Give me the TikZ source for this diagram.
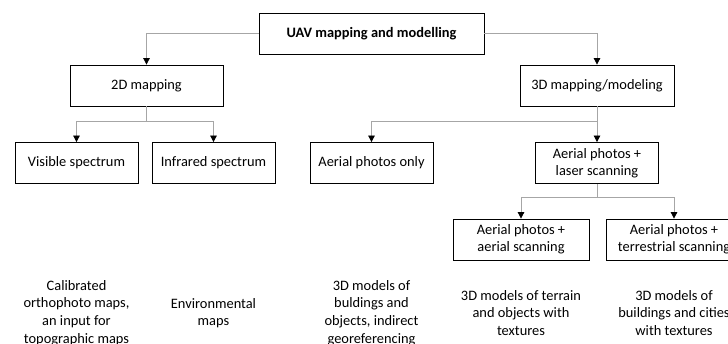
\documentclass[tikz,border=0pt]{standalone}
\usepackage{fontspec}
\setmainfont{Carlito}
\usepackage{tikz}
\usetikzlibrary{arrows.meta,positioning}

\begin{document}
\begin{tikzpicture}[x=1pt,y=-1pt,
      box/.style={rectangle,draw=black,line width=0.8pt,fill=white,minimum height=41pt,inner sep=0pt,align=center,font=\fontsize{14.4}{17}\selectfont},
      rootbox/.style={box,font=\fontsize{14.4}{17}\selectfont\bfseries},
      note/.style={align=center,inner sep=0pt,font=\fontsize{14.4}{17.6}\selectfont},
      link/.style={draw=gray!70,line width=0.8pt,-{Triangle[color=black,length=6.5pt,width=6.5pt]}}]
    \useasboundingbox (0,0) rectangle (728,344);
    % boxes
    \node[rootbox,minimum width=225pt] (uav) at (371.5,33.5) {UAV mapping and modelling};
    \node[box,minimum width=153pt] (map2d) at (146.5,85.5) {2D mapping};
    \node[box,minimum width=154pt] (map3d) at (597,85.5) {3D mapping/modeling};
    \node[box,minimum width=123pt] (vis) at (76.5,163) {Visible spectrum};
    \node[box,minimum width=123pt] (ir) at (213.5,163) {Infrared spectrum};
    \node[box,minimum width=123pt] (photo) at (371.5,163) {Aerial photos only};
    \node[box,minimum width=123pt] (laser) at (597,163) {Aerial photos +\\laser scanning};
    \node[box,minimum width=136pt] (aerscan) at (521,239.5) {Aerial photos +\\aerial scanning};
    \node[box,minimum width=136pt] (terscan) at (674,239.5) {Aerial photos +\\terrestrial scanning};
    % outputs
    \node[note] (visout) at (76.5,313) {Calibrated\\orthophoto maps,\\an input for\\topographic maps};
    \node[note] (irout) at (213.5,313) {Environmental\\maps};
    \node[note] (photoout) at (371.5,313) {3D models of\\buldings and\\objects, indirect\\georeferencing};
    \node[note] (aerout) at (521,313) {3D models of terrain\\and objects with\\textures};
    \node[note] (terout) at (674,313) {3D models of\\buildings and cities\\with textures};
    % connectors
    \coordinate (fork2d) at (146.5,121);
    \coordinate (fork3d) at (597,121);
    \coordinate (forklaser) at (597,197);
    \draw[link] (uav.west) -| (map2d.north);
    \draw[link] (uav.east) -| (map3d.north);
    \draw[link] (map2d.south) -- (fork2d) -| (vis.north);
    \draw[link] (fork2d) -| (ir.north);
    \draw[link] (map3d.south) -- (fork3d) -| (photo.north);
    \draw[link] (fork3d) -- (laser.north);
    \draw[link] (laser.south) -- (forklaser) -| (aerscan.north);
    \draw[link] (forklaser) -| (terscan.north);
\end{tikzpicture}
\end{document}
